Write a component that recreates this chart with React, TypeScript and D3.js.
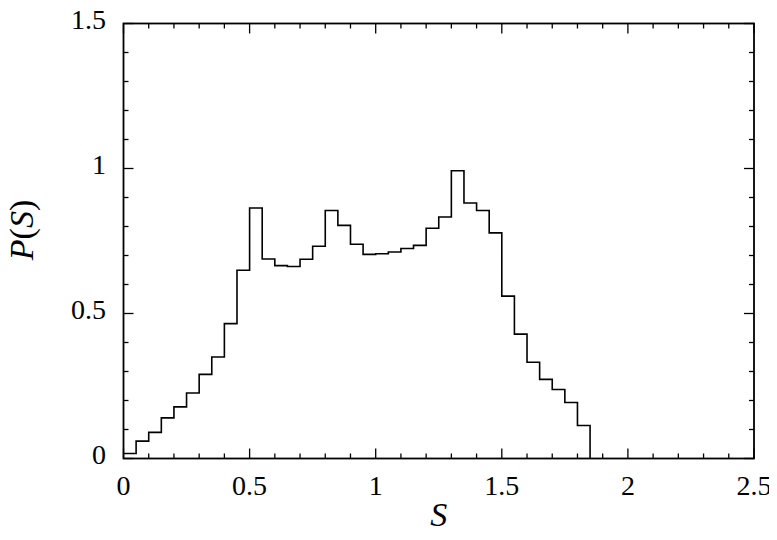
import React from "react";
import { scaleLinear, line, curveStepAfter, range } from "d3";

// histogram bins of width 0.05 starting at S = 0
const binWidth = 0.05;
const binValues = [
  0.017, 0.06, 0.09, 0.14, 0.178, 0.226, 0.29, 0.35, 0.465, 0.649,
  0.864, 0.688, 0.665, 0.662, 0.687, 0.732, 0.855, 0.804, 0.739, 0.704,
  0.706, 0.712, 0.724, 0.735, 0.794, 0.833, 0.992, 0.881, 0.855, 0.778,
  0.56, 0.429, 0.332, 0.273, 0.238, 0.193, 0.114,
];
const xTickLabels = [0, 0.5, 1, 1.5, 2, 2.5];
const yTickLabels = [0, 0.5, 1, 1.5];

const W = 777;
const H = 540;
const left = 123.5;
const right = 754;
const top = 23.5;
const bottom = 458.5;

const font = "'Liberation Serif', 'Times New Roman', serif";

function App() {
  const x = scaleLinear().domain([0, 2.5]).range([left, right]);
  const y = scaleLinear().domain([0, 1.5]).range([bottom, top]);

  const pts: [number, number][] = binValues.map((v, i) => [i * binWidth, v]);
  pts.push([binValues.length * binWidth, 0]);
  const path = line<[number, number]>()
    .x((d) => x(d[0]))
    .y((d) => y(d[1]))
    .curve(curveStepAfter)(pts);

  const xMinor = range(0, 26).map((i) => i * 0.1);
  const yMinor = range(0, 16).map((i) => i * 0.1);
  const isMajor = (v: number) => Math.abs(v * 2 - Math.round(v * 2)) < 1e-6;

  return (
    <svg width={W} height={H} style={{ display: "block", margin: "-8px" }}>
      <rect width={W} height={H} fill="#fff" />
      <g stroke="#000" strokeWidth={1.3}>
        {xMinor.map((v) => {
          const len = isMajor(v) ? 10 : 5;
          return (
            <g key={"x" + v}>
              <line x1={x(v)} x2={x(v)} y1={bottom} y2={bottom - len} />
              <line x1={x(v)} x2={x(v)} y1={top} y2={top + len} />
            </g>
          );
        })}
        {yMinor.map((v) => {
          const len = isMajor(v) ? 10 : 5;
          return (
            <g key={"y" + v}>
              <line x1={left} x2={left + len} y1={y(v)} y2={y(v)} />
              <line x1={right} x2={right - len} y1={y(v)} y2={y(v)} />
            </g>
          );
        })}
      </g>
      <path d={path ?? ""} fill="none" stroke="#000" strokeWidth={1.6} />
      <rect
        x={left}
        y={top}
        width={right - left}
        height={bottom - top}
        fill="none"
        stroke="#000"
        strokeWidth={1.8}
      />
      <g fontFamily={font} fontSize={28} fill="#000">
        {xTickLabels.map((v) => (
          <text key={"xl" + v} x={x(v)} y={495} textAnchor="middle">
            {v}
          </text>
        ))}
        {yTickLabels.map((v) => (
          <text key={"yl" + v} x={106} y={y(v) + 5} textAnchor="end">
            {v}
          </text>
        ))}
      </g>
      <text
        x={(left + right) / 2}
        y={526}
        textAnchor="middle"
        fontFamily={font}
        fontSize={34}
        fontStyle="italic"
      >
        S
      </text>
      <text
        transform={`translate(33, 230) rotate(-90)`}
        textAnchor="middle"
        fontFamily={font}
        fontSize={34}
      >
        <tspan fontStyle="italic">P</tspan>(<tspan fontStyle="italic">S</tspan>)
      </text>
    </svg>
  );
}

export default App;
